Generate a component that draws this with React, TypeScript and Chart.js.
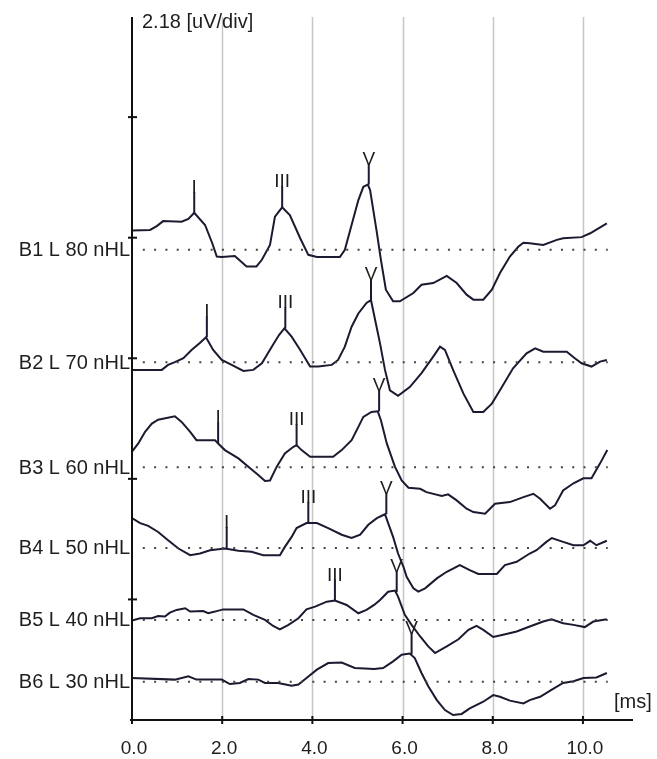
import { useEffect, useRef } from 'react';
import { Chart, registerables } from 'chart.js';

Chart.register(...registerables);

// ---- data (time in ms, amplitude in µV relative to each trace's display baseline) ----
const levelLabels = ['B1 L 80 nHL', 'B2 L 70 nHL', 'B3 L 60 nHL', 'B4 L 50 nHL', 'B5 L 40 nHL', 'B6 L 30 nHL'];
const baselines = [8.5, 6.47, 4.57, 3.11, 1.81, 0.69];

const traceB1 = [
  [0.0, 0.35], [0.4, 0.36], [0.55, 0.43], [0.69, 0.52], [1.1, 0.51], [1.25, 0.56], [1.38, 0.67], [1.62, 0.45],
  [1.78, 0.12], [1.88, -0.12], [1.99, -0.13], [2.28, -0.11], [2.54, -0.3], [2.76, -0.3], [2.88, -0.18], [3.06, 0.09],
  [3.17, 0.6], [3.33, 0.77], [3.5, 0.63], [3.73, 0.21], [3.91, -0.09], [4.1, -0.13], [4.61, -0.13], [4.72, 0.0],
  [4.94, 0.66], [5.02, 0.9], [5.13, 1.14], [5.23, 1.18], [5.28, 1.08], [5.43, 0.31], [5.52, -0.18], [5.63, -0.72],
  [5.79, -0.93], [5.94, -0.93], [6.24, -0.78], [6.42, -0.63], [6.68, -0.6], [6.98, -0.47], [7.2, -0.6], [7.42, -0.81],
  [7.57, -0.9], [7.79, -0.9], [7.98, -0.72], [8.16, -0.42], [8.38, -0.12], [8.57, 0.06], [8.68, 0.13], [8.82, 0.12],
  [9.12, 0.09], [9.42, 0.18], [9.56, 0.21], [9.97, 0.23], [10.16, 0.3], [10.53, 0.48],
];
const traceB2 = [
  [0.0, -0.14], [0.66, -0.14], [0.8, -0.05], [0.95, 0.0], [1.14, 0.07], [1.32, 0.22], [1.51, 0.35], [1.64, 0.45],
  [1.8, 0.22], [1.99, 0.04], [2.21, -0.05], [2.47, -0.16], [2.69, -0.14], [2.88, -0.02], [3.1, 0.28], [3.26, 0.49],
  [3.38, 0.61], [3.54, 0.46], [3.73, 0.22], [3.95, -0.08], [4.13, -0.08], [4.43, -0.05], [4.57, 0.04], [4.72, 0.28],
  [4.87, 0.64], [5.02, 0.88], [5.2, 1.07], [5.3, 1.12], [5.5, 0.34], [5.61, -0.14], [5.72, -0.51], [5.9, -0.61],
  [6.16, -0.45], [6.42, -0.2], [6.68, 0.1], [6.83, 0.28], [6.94, 0.22], [7.12, -0.14], [7.35, -0.57], [7.57, -0.9],
  [7.79, -0.9], [7.98, -0.75], [8.16, -0.51], [8.45, -0.11], [8.75, 0.16], [8.94, 0.25], [9.12, 0.19], [9.64, 0.19],
  [9.82, 0.07], [9.97, -0.02], [10.19, -0.08], [10.38, 0.01], [10.53, 0.04],
];
const traceB3 = [
  [0.0, 0.28], [0.14, 0.43], [0.29, 0.64], [0.44, 0.79], [0.58, 0.86], [0.95, 0.92], [1.1, 0.82], [1.29, 0.64],
  [1.43, 0.49], [1.84, 0.49], [1.91, 0.43], [2.06, 0.31], [2.36, 0.16], [2.62, -0.02], [2.8, -0.14], [2.95, -0.25],
  [3.06, -0.24], [3.21, 0.01], [3.39, 0.25], [3.58, 0.37], [3.65, 0.4], [3.76, 0.31], [3.95, 0.19], [4.46, 0.19],
  [4.65, 0.31], [4.87, 0.49], [5.02, 0.73], [5.13, 0.91], [5.31, 1.0], [5.45, 1.01], [5.52, 0.85], [5.65, 0.43],
  [5.83, 0.01], [5.98, -0.24], [6.13, -0.37], [6.39, -0.39], [6.53, -0.45], [6.87, -0.52], [7.01, -0.49], [7.2, -0.6],
  [7.42, -0.75], [7.57, -0.81], [7.83, -0.84], [8.05, -0.66], [8.38, -0.63], [8.68, -0.54], [8.9, -0.48], [9.05, -0.57],
  [9.27, -0.75], [9.38, -0.69], [9.56, -0.42], [9.79, -0.29], [10.01, -0.2], [10.19, -0.2], [10.38, 0.07], [10.54, 0.31],
];
const traceB4 = [
  [0.0, 0.54], [0.18, 0.45], [0.36, 0.4], [0.58, 0.29], [0.8, 0.14], [1.03, -0.01], [1.29, -0.13], [1.51, -0.1],
  [1.73, -0.04], [2.06, -0.01], [2.36, -0.05], [2.65, -0.07], [2.91, -0.13], [3.28, -0.13], [3.39, 0.02], [3.54, 0.2],
  [3.65, 0.36], [3.87, 0.45], [4.1, 0.45], [4.35, 0.36], [4.65, 0.24], [4.87, 0.18], [5.06, 0.24], [5.24, 0.42],
  [5.43, 0.54], [5.61, 0.61], [5.68, 0.45], [5.79, 0.2], [5.9, -0.1], [6.02, -0.34], [6.09, -0.52], [6.24, -0.73],
  [6.35, -0.79], [6.5, -0.73], [6.76, -0.55], [6.98, -0.43], [7.27, -0.31], [7.49, -0.4], [7.68, -0.47], [8.09, -0.47],
  [8.27, -0.31], [8.53, -0.25], [8.82, -0.1], [8.97, -0.04], [9.19, 0.11], [9.31, 0.18], [9.56, 0.11], [9.79, 0.05],
  [10.01, 0.05], [10.16, 0.13], [10.3, 0.05], [10.53, 0.13],
];
const traceB5 = [
  [0.0, -0.01], [0.18, 0.03], [0.44, 0.03], [0.58, 0.07], [0.73, 0.06], [0.84, 0.13], [0.99, 0.18], [1.18, 0.21],
  [1.29, 0.15], [1.58, 0.16], [1.69, 0.12], [1.84, 0.15], [2.02, 0.19], [2.47, 0.19], [2.69, 0.09], [2.95, 0.0],
  [3.13, -0.11], [3.28, -0.17], [3.47, -0.09], [3.69, 0.03], [3.87, 0.19], [4.06, 0.24], [4.32, 0.33], [4.5, 0.35],
  [4.76, 0.27], [5.02, 0.12], [5.2, 0.18], [5.37, 0.27], [5.5, 0.36], [5.68, 0.51], [5.83, 0.53], [5.9, 0.42],
  [6.05, 0.09], [6.2, -0.09], [6.39, -0.3], [6.57, -0.48], [6.72, -0.6], [6.98, -0.48], [7.24, -0.35], [7.46, -0.18],
  [7.64, -0.11], [7.79, -0.18], [8.01, -0.31], [8.23, -0.27], [8.53, -0.21], [8.82, -0.12], [9.12, -0.03], [9.3, 0.01],
  [9.56, -0.06], [9.79, -0.09], [10.04, -0.13], [10.23, -0.03], [10.53, 0.01],
];
const traceB6 = [
  [0.0, 0.07], [0.95, 0.04], [1.25, 0.1], [1.43, 0.04], [1.99, 0.04], [2.17, -0.04], [2.39, -0.02], [2.58, 0.05],
  [2.8, 0.04], [2.95, -0.02], [3.24, -0.02], [3.54, -0.07], [3.69, -0.05], [3.87, 0.07], [4.1, 0.22], [4.35, 0.34],
  [4.65, 0.35], [4.94, 0.25], [5.37, 0.23], [5.57, 0.25], [5.79, 0.37], [5.98, 0.49], [6.16, 0.51], [6.27, 0.43],
  [6.42, 0.16], [6.57, -0.08], [6.76, -0.33], [6.94, -0.51], [7.12, -0.6], [7.31, -0.58], [7.49, -0.48], [7.79, -0.36],
  [8.01, -0.24], [8.16, -0.27], [8.38, -0.34], [8.68, -0.39], [8.82, -0.33], [9.05, -0.27], [9.31, -0.14], [9.56, -0.02],
  [9.79, 0.01], [10.01, 0.07], [10.3, 0.08], [10.53, 0.16],
];
const traces = [traceB1, traceB2, traceB3, traceB4, traceB5, traceB6];

// peak markers: [label, time ms, amplitude µV]
const markersB1 = [['I', 1.38, 0.67], ['III', 3.33, 0.77], ['V', 5.25, 1.18]];
const markersB2 = [['I', 1.66, 0.45], ['III', 3.4, 0.61], ['V', 5.3, 1.12]];
const markersB3 = [['I', 1.91, 0.43], ['III', 3.65, 0.4], ['V', 5.48, 1.01]];
const markersB4 = [['I', 2.1, 0.0], ['III', 3.91, 0.45], ['V', 5.64, 0.61]];
const markersB5 = [['III', 4.5, 0.35], ['V', 5.87, 0.5]];
const markersB6 = [['V', 6.2, 0.5]];
const markers = [markersB1, markersB2, markersB3, markersB4, markersB5, markersB6];

const xTicks = [0, 2, 4, 6, 8, 10];
const xTickLabels = ['0.0', '2.0', '4.0', '6.0', '8.0', '10.0'];
const yDiv = 2.18; // µV per division
const yLabel = '2.18 [uV/div]';
const xUnit = '[ms]';

// ---- styling ----
const W = 657;
const H = 759;
const X_MAX = 11.11;
const Y_MAX = 12.71;
const STEM = 0.38;
const DOT_START = 0.24;
const DOT_END = 10.55;
const TRACE_COLOR = '#1a1a30';
const TEXT_COLOR = '#1e1e1e';
const FONT = '"Liberation Sans", Arial, sans-serif';

const abrPlugin = {
  id: 'abrDecor',
  beforeDatasetsDraw(chart: any) {
    const { ctx, chartArea, scales } = chart;
    ctx.save();
    ctx.strokeStyle = '#c6c6c6';
    ctx.lineWidth = 1.5;
    xTicks.forEach((t) => {
      if (t === 0) return;
      const x = Math.round(scales.x.getPixelForValue(t)) + 0.5;
      ctx.beginPath();
      ctx.moveTo(x, chartArea.top);
      ctx.lineTo(x, chartArea.bottom);
      ctx.stroke();
    });
    ctx.restore();
  },
  afterDatasetsDraw(chart: any) {
    const { ctx, chartArea, scales } = chart;
    const { left, right, top, bottom } = chartArea;
    ctx.save();
    ctx.strokeStyle = '#111111';
    ctx.lineWidth = 2;
    // axes
    ctx.beginPath();
    ctx.moveTo(left, top);
    ctx.lineTo(left, bottom);
    ctx.moveTo(left - 2, bottom);
    ctx.lineTo(right, bottom);
    ctx.stroke();
    // x ticks
    xTicks.forEach((t) => {
      const x = scales.x.getPixelForValue(t);
      ctx.beginPath();
      ctx.moveTo(x, bottom - 4);
      ctx.lineTo(x, bottom + 4);
      ctx.stroke();
    });
    // y ticks
    for (let v = yDiv; v <= Y_MAX; v += yDiv) {
      const y = scales.y.getPixelForValue(v);
      ctx.beginPath();
      ctx.moveTo(left - 4, y);
      ctx.lineTo(left + 5, y);
      ctx.stroke();
    }
    ctx.fillStyle = TEXT_COLOR;
    // x tick labels
    ctx.font = `19px ${FONT}`;
    ctx.textAlign = 'center';
    ctx.textBaseline = 'middle';
    xTicks.forEach((t, i) => {
      ctx.fillText(xTickLabels[i], scales.x.getPixelForValue(t) + 2, bottom + 29);
    });
    // units
    ctx.font = `20px ${FONT}`;
    ctx.textAlign = 'left';
    ctx.fillText(yLabel, left + 10, top + 5);
    ctx.fillText(xUnit, 614, bottom - 18);
    // level labels
    ctx.textAlign = 'right';
    levelLabels.forEach((lab, i) => {
      ctx.fillText(lab, left - 2, scales.y.getPixelForValue(baselines[i]) + 1);
    });
    // marker labels
    ctx.font = `19px ${FONT}`;
    ctx.textAlign = 'center';
    ctx.textBaseline = 'alphabetic';
    markers.forEach((ms, i) => {
      ms.forEach((m: any) => {
        const x = scales.x.getPixelForValue(m[1]);
        const y = scales.y.getPixelForValue(baselines[i] + m[2] + STEM);
        ctx.fillText(m[0], x, y + 1);
      });
    });
    ctx.restore();
  },
};

export default function App() {
  const ref = useRef<HTMLCanvasElement>(null);
  useEffect(() => {
    const canvas = ref.current;
    if (!canvas) return;
    const datasets: any[] = [];
    traces.forEach((tr, i) => {
      datasets.push({
        data: [{ x: DOT_START, y: baselines[i] }, { x: DOT_END, y: baselines[i] }],
        borderColor: '#444444',
        borderWidth: 2,
        borderDash: [2, 9.3],
        pointRadius: 0,
        tension: 0,
      });
      datasets.push({
        data: tr.map(([t, a]) => ({ x: t, y: baselines[i] + a })),
        borderColor: TRACE_COLOR,
        borderWidth: 2,
        pointRadius: 0,
        tension: 0,
      });
      markers[i].forEach((m: any) => {
        datasets.push({
          data: [{ x: m[1], y: baselines[i] + m[2] }, { x: m[1], y: baselines[i] + m[2] + STEM }],
          borderColor: TRACE_COLOR,
          borderWidth: 2,
          pointRadius: 0,
          tension: 0,
        });
      });
    });
    const chart = new Chart(canvas, {
      type: 'line',
      data: { datasets },
      options: {
        animation: false,
        responsive: false,
        devicePixelRatio: 1,
        events: [],
        layout: { padding: { left: 132, right: 24, top: 17, bottom: 39 } },
        plugins: { legend: { display: false }, tooltip: { enabled: false } },
        scales: {
          x: { type: 'linear', min: 0, max: X_MAX, display: false },
          y: { type: 'linear', min: 0, max: Y_MAX, display: false },
        },
      },
      plugins: [abrPlugin],
    } as any);
    return () => chart.destroy();
  }, []);
  return (
    <div style={{ position: 'fixed', left: 0, top: 0, width: W, height: H, background: '#ffffff' }}>
      <canvas ref={ref} width={W} height={H} style={{ display: 'block' }} />
    </div>
  );
}
